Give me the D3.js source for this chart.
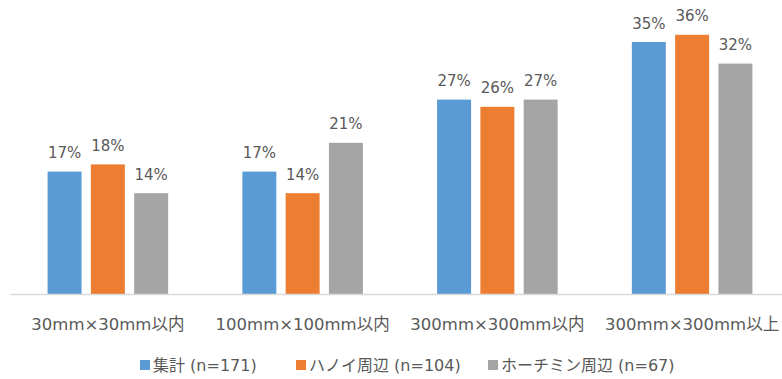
<!DOCTYPE html>
<html>
<head>
<meta charset="utf-8">
<script src="https://cdn.jsdelivr.net/npm/d3@7"></script>
<style>
  html, body { margin: 0; padding: 0; background: #fff; }
  svg { display: block; }
  text { font-family: "DejaVu Sans", "Noto Sans CJK JP", sans-serif; fill: #595959; }
</style>
</head>
<body>
<svg id="chart" width="782" height="379"></svg>
<script>
// Share of respondents by product size, per region
const categories = ["30mm×30mm以内", "100mm×100mm以内", "300mm×300mm以内", "300mm×300mm以上"];
const seriesNames = ["集計 (n=171)", "ハノイ周辺 (n=104)", "ホーチミン周辺 (n=67)"];
const seriesColors = ["#5B9BD5", "#ED7D31", "#A5A5A5"];
const totalValues = [0.17, 0.17, 0.27, 0.35];
const hanoiValues = [0.18, 0.14, 0.26, 0.36];
const hcmValues   = [0.14, 0.21, 0.27, 0.32];
const seriesValues = [totalValues, hanoiValues, hcmValues];

const svg = d3.select("#chart");
const baseY = 294;

const x0 = d3.scaleBand()
  .domain(categories)
  .range([10.5, 789.5])
  .paddingInner(0.381)
  .paddingOuter(0.1905);

const x1 = d3.scaleBand()
  .domain(seriesNames)
  .range([0, x0.bandwidth()])
  .paddingInner(0.215)
  .paddingOuter(0);

const y = d3.scaleLinear().domain([0, 0.4]).range([baseY, 6]);

const fmt = d3.format(".0%");

const rows = categories.map((c, i) => ({
  category: c,
  values: seriesNames.map((s, j) => ({ series: s, color: seriesColors[j], value: seriesValues[j][i] }))
}));

const groups = svg.append("g").selectAll("g")
  .data(rows)
  .join("g")
  .attr("transform", d => `translate(${x0(d.category)},0)`);

groups.selectAll("rect")
  .data(d => d.values)
  .join("rect")
  .attr("x", d => x1(d.series))
  .attr("width", x1.bandwidth())
  .attr("y", d => y(d.value))
  .attr("height", d => baseY - y(d.value))
  .attr("fill", d => d.color);

groups.selectAll("text.value")
  .data(d => d.values)
  .join("text")
  .attr("class", "value")
  .attr("x", d => x1(d.series) + x1.bandwidth() / 2)
  .attr("y", d => y(d.value) - 13.5)
  .attr("text-anchor", "middle")
  .style("font-size", "15px")
  .text(d => fmt(d.value));

// Category axis
const xAxis = svg.append("g")
  .attr("transform", `translate(0,${baseY})`)
  .call(d3.axisBottom(x0).tickSize(0).tickPadding(0));
xAxis.select(".domain").attr("stroke", "#D9D9D9").attr("stroke-width", 1.3)
  .attr("d", `M10,0.5H782`);
xAxis.selectAll(".tick text")
  .attr("y", 36)
  .attr("dy", null)
  .style("font-size", "16.5px")
  .style("font-family", "\"DejaVu Sans\", \"Noto Sans CJK JP\", sans-serif")
  .attr("fill", "#595959");

// Legend
const legendX = [140, 296, 488];
const legend = svg.append("g").selectAll("g")
  .data(seriesNames)
  .join("g")
  .attr("transform", (d, i) => `translate(${legendX[i]},360)`);
legend.append("rect")
  .attr("width", 10).attr("height", 10)
  .attr("fill", (d, i) => seriesColors[i]);
legend.append("text")
  .attr("x", 13).attr("y", 11)
  .style("font-size", "16px")
  .text(d => d);
</script>
</body>
</html>
